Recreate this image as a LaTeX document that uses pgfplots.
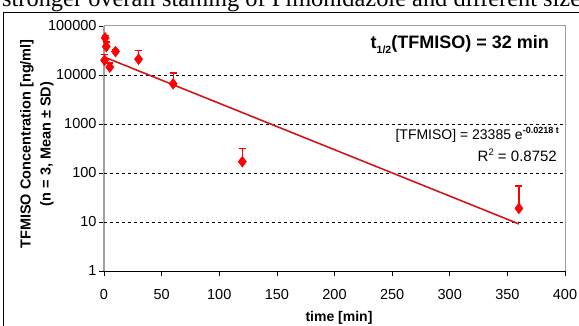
\documentclass[border=0pt]{standalone}
\usepackage{pgfplots}
\pgfplotsset{compat=1.18}
\usepackage{fontspec}
\setmainfont{Liberation Sans}
\newfontfamily\seriffont{Liberation Serif}
\definecolor{axgray}{HTML}{A0A0A0}
\definecolor{trend}{HTML}{D01818}
\begin{document}
\begin{tikzpicture}[x=1pt,y=1pt]
\useasboundingbox (0,0) rectangle (579,326);
\clip (0,0) rectangle (579,326);
\node[anchor=base west, inner sep=0, font=\seriffont\fontsize{24.4}{28}\selectfont] at (2,319) {stronger overall staining of Pimonidazole and different size};
\fill[white] (3.5,-10) rectangle (600,313.5);
\draw[black, line width=1pt] (3.5,-10) rectangle (600,313.5);
\begin{axis}[
  at={(104pt,55pt)}, anchor=south west, scale only axis,
  width=461pt, height=245pt,
  xmin=0, xmax=400, ymin=1, ymax=100000, ymode=log,
  axis x line*=bottom, axis y line*=left,
  x axis line style={black, line width=0.8pt, -},
  y axis line style={axgray, line width=2.5pt, -},
  xtick={0,50,...,400},
  ytick={1,10,100,1000,10000,100000},
  yticklabels={1,10,100,1000,10000,100000},
  yminorticks=false,
  tick align=outside, major tick length=5pt,
  tick style={black, line width=0.6pt},
  extra y ticks={10,100,1000,10000},
  extra y tick labels={},
  extra y tick style={grid=major, major tick length=0pt},
  grid style={black, dashed, line width=0.6pt},
  tick label style={font=\fontsize{14.5}{16}\selectfont},
  xticklabel style={yshift=-10pt},
  yticklabel style={xshift=1pt},
  /pgf/number format/assume math mode=true,
  clip=false,
]
\addplot[only marks, mark=diamond*, mark size=5.5pt, color=red,
  error bars/.cd, y dir=plus, y explicit,
  error bar style={red, line width=1.3pt},
  error mark options={rotate=90, mark size=3.5pt, line width=1.3pt, red}]
  table[x=t, y=c, y error=e] {
t c e
0.5 20000 6000
1 57000 6000
2 38000 9000
5 14500 3000
10 30000 3000
30 21000 11000
60 6600 4400
120 170 150
360 19 35
};
\addplot[color=trend, line width=1.6pt] coordinates {(0,23385) (360,9.13)};
\end{axis}
\draw[axgray, line width=1pt] (104,300) -- (565,300) -- (565,55);
\node[anchor=base east, inner sep=0, font=\bfseries\fontsize{18}{20}\selectfont] at (549,277)
  {t\raisebox{-0.25em}{\fontsize{10.5}{10.5}\selectfont 1/2}(TFMISO) = 32 min};
\node[anchor=base east, inner sep=0, font=\fontsize{14}{16}\selectfont] at (559,186)
  {[TFMISO] = 23385 e\raisebox{0.45em}{\fontsize{9}{9}\selectfont\bfseries -0.0218 t}};
\node[anchor=base east, inner sep=0, font=\fontsize{15}{17}\selectfont] at (557,164)
  {R\raisebox{0.45em}{\fontsize{9.5}{9.5}\selectfont 2} = 0.8752};
\node[rotate=90, align=center, inner sep=0, font=\bfseries\fontsize{14.5}{20}\selectfont] at (37,182)
  {TFMISO Concentration [ng/ml]\\(n = 3, Mean ± SD)};
\node[anchor=center, inner sep=0, font=\bfseries\fontsize{14}{16}\selectfont] at (339,8) {time [min]};
\end{tikzpicture}
\end{document}
